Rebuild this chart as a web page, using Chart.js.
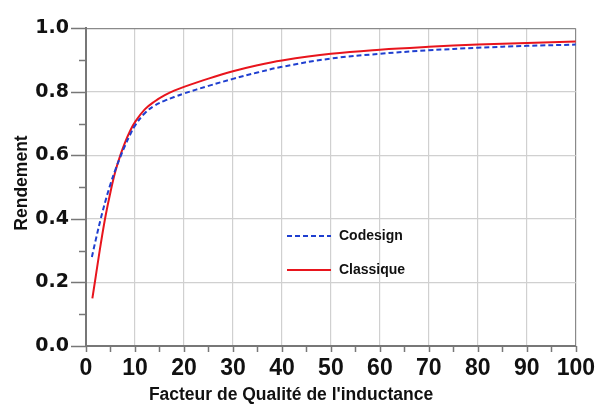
<!DOCTYPE html>
<html>
<head>
<meta charset="utf-8">
<script src="https://cdn.jsdelivr.net/npm/chart.js@4"></script>
<style>
  html, body { margin: 0; padding: 0; background: #fff; }
  #wrap { width: 604px; height: 405px; }
</style>
</head>
<body>
<div id="wrap"><canvas id="rendChart" width="604" height="405"></canvas></div>
<script>
// values
const qCodesign = [1.2, 2, 3, 4, 5, 6, 7, 8, 9, 10, 12, 14, 16, 18, 20, 25, 30, 35, 40, 50, 60, 70, 80, 90, 100];
const rendCodesign = [0.28, 0.335, 0.40, 0.458, 0.51, 0.555, 0.595, 0.632, 0.665, 0.694, 0.733, 0.757, 0.772, 0.784, 0.795, 0.819, 0.841, 0.861, 0.879, 0.905, 0.92, 0.931, 0.939, 0.945, 0.949];
const qClassique = [1.3, 2, 3, 4, 5, 6, 7, 8, 9, 10, 12, 14, 16, 18, 20, 25, 30, 35, 40, 50, 60, 70, 80, 90, 100];
const rendClassique = [0.15, 0.22, 0.32, 0.41, 0.485, 0.55, 0.60, 0.642, 0.677, 0.705, 0.745, 0.77, 0.789, 0.804, 0.816, 0.842, 0.865, 0.884, 0.899, 0.92, 0.933, 0.942, 0.949, 0.954, 0.959];
const seriesNames = ['Codesign', 'Classique'];
const xTitle = "Facteur de Qualité de l'inductance";
const yTitle = 'Rendement';

function toPoints(xs, ys) {
    return xs.map(function (x, i) { return { x: x, y: ys[i] }; });
}

// small tick marks, titles and the inner legend
const extras = {
    id: 'extras',
    afterDraw: function (chart) {
        var ctx = chart.ctx;
        var xs = chart.scales.x, ys = chart.scales.y;
        var area = chart.chartArea;
        ctx.save();
        ctx.strokeStyle = '#777';
        ctx.lineWidth = 1.5;
        ctx.beginPath();
        for (var v = 0; v <= 100; v += 5) {
            var px = Math.round(xs.getPixelForValue(v)) + 0.5;
            ctx.moveTo(px, area.bottom);
            ctx.lineTo(px, area.bottom + 6);
        }
        for (var k = 0; k <= 10; k++) {
            var py = Math.round(ys.getPixelForValue(k / 10)) + 0.5;
            var len = k % 2 === 0 ? 15 : 7;
            ctx.moveTo(area.left, py);
            ctx.lineTo(area.left - len, py);
        }
        ctx.stroke();

        // axis titles
        ctx.fillStyle = '#111';
        ctx.font = 'bold 17.5px "Liberation Sans", Arial, sans-serif';
        ctx.textAlign = 'center';
        ctx.textBaseline = 'alphabetic';
        ctx.fillText(xTitle, 291, 400);
        ctx.save();
        ctx.translate(27, 183);
        ctx.rotate(-Math.PI / 2);
        ctx.fillText(yTitle, 0, 0);
        ctx.restore();

        // legend inside the plot
        var rows = [236, 270];
        chart.data.datasets.forEach(function (ds, i) {
            ctx.strokeStyle = ds.borderColor;
            ctx.lineWidth = 2;
            ctx.setLineDash(ds.borderDash || []);
            ctx.beginPath();
            ctx.moveTo(287, rows[i]);
            ctx.lineTo(331, rows[i]);
            ctx.stroke();
            ctx.setLineDash([]);
            ctx.fillStyle = '#111';
            ctx.font = 'bold 14px "Liberation Sans", Arial, sans-serif';
            ctx.textAlign = 'left';
            ctx.textBaseline = 'middle';
            ctx.fillText(ds.label, 339, rows[i]);
        });
        ctx.restore();
    }
};

var ctx = document.getElementById('rendChart').getContext('2d');
var chart = new Chart(ctx, {
    type: 'line',
    data: {
        datasets: [{
            label: seriesNames[0],
            data: toPoints(qCodesign, rendCodesign),
            borderColor: '#1f3fd0',
            borderWidth: 2,
            borderDash: [5, 3],
            pointRadius: 0,
            fill: false,
            tension: 0.4
        }, {
            label: seriesNames[1],
            data: toPoints(qClassique, rendClassique),
            borderColor: '#e8151d',
            borderWidth: 2,
            pointRadius: 0,
            fill: false,
            tension: 0.4
        }]
    },
    options: {
        responsive: false,
        animation: false,
        layout: { padding: { top: 27, right: 24, left: 0, bottom: 0 } },
        plugins: {
            legend: { display: false },
            tooltip: { enabled: false }
        },
        scales: {
            x: {
                type: 'linear',
                min: 0,
                max: 100,
                afterFit: function (s) { s.height = 59; },
                ticks: {
                    stepSize: 10,
                    color: '#111',
                    padding: 9,
                    maxRotation: 0,
                    font: { family: '"Liberation Sans", Arial, sans-serif', size: 23, weight: 'bold' }
                },
                grid: {
                    drawTicks: false,
                    lineWidth: 1.2,
                    color: function (c) { return c.tick && c.tick.value === 100 ? '#8a8a8a' : '#d0d0d0'; }
                },
                border: { color: '#777', width: 2 }
            },
            y: {
                min: 0,
                max: 1,
                afterFit: function (s) { s.width = 86; },
                ticks: {
                    stepSize: 0.2,
                    color: '#111',
                    padding: 17,
                    callback: function (v) { return v.toFixed(1); },
                    font: { family: '"DejaVu Sans", sans-serif', size: 19, weight: 'bold' }
                },
                grid: {
                    drawTicks: false,
                    lineWidth: 1.2,
                    color: function (c) { return c.tick && c.tick.value === 1 ? '#8a8a8a' : '#d0d0d0'; }
                },
                border: { color: '#777', width: 2 }
            }
        }
    },
    plugins: [extras]
});
</script>
</body>
</html>
